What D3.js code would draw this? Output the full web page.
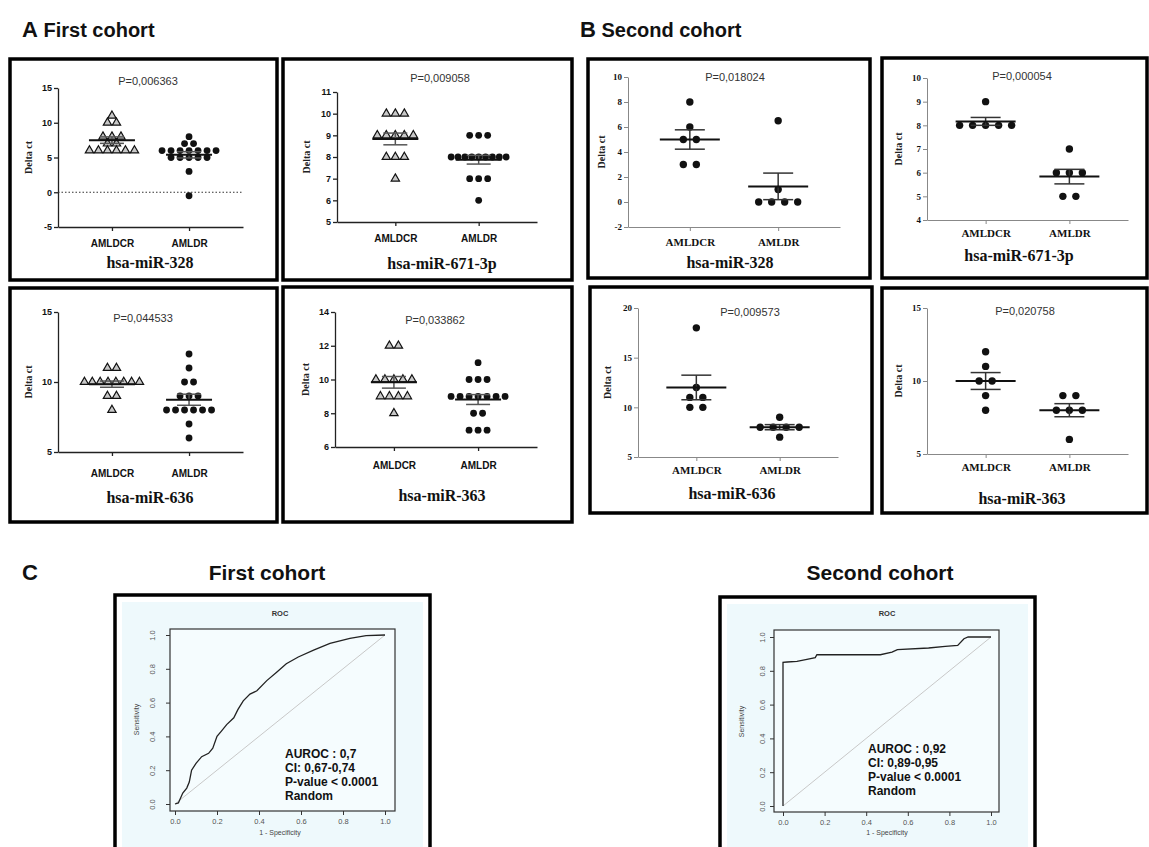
<!DOCTYPE html>
<html>
<head>
<meta charset="utf-8">
<script src="https://cdn.jsdelivr.net/npm/d3@7"></script>
<style>body{margin:0;background:#fff}</style>
</head>
<body>
<div id="fig"></div>
<script>
// categories
const groups = ["AMLDCR", "AMLDR"];

// first cohort: [AMLDCR, AMLDR] delta ct values
const a328 = [[11, 10, 10, 8, 8, 8, 7, 7, 6, 6, 6, 6, 6, 6], [8, 7, 7, 6, 6, 6, 6, 6, 6, 6, 5, 5, 5, 5, 5, 3, -0.5]];
const a671 = [[10, 10, 10, 9, 9, 9, 9, 9, 8, 8, 8, 7], [9, 9, 9, 8, 8, 8, 8, 8, 8, 8, 8, 8, 7, 7, 7, 6]];
const a636 = [[11, 11, 10, 10, 10, 10, 10, 10, 10, 10, 9, 9, 8], [12, 11, 10, 10, 9, 9, 9, 8, 8, 8, 8, 8, 8, 7, 6]];
const a363 = [[12, 12, 10, 10, 10, 10, 10, 9, 9, 9, 9, 8], [11, 10, 10, 10, 9, 9, 9, 9, 9, 9, 9, 8, 8, 7, 7, 7]];
// second cohort
const b328 = [[8, 6, 5, 5, 3, 3], [6.5, 1, 0, 0, 0, 0]];
const b671 = [[9, 8, 8, 8, 8, 8], [7, 6, 6, 6, 5, 5]];
const b636 = [[18, 12, 11, 11, 10, 10], [9, 8, 8, 8, 8, 7]];
const b363 = [[12, 11, 10, 10, 9, 8], [9, 9, 8, 8, 8, 6]];

const pValues = ["P=0,006363", "P=0,009058", "P=0,044533", "P=0,033862", "P=0,018024", "P=0,000054", "P=0,009573", "P=0,020758"];
const mirNames = ["hsa-miR-328", "hsa-miR-671-3p", "hsa-miR-636", "hsa-miR-363", "hsa-miR-328", "hsa-miR-671-3p", "hsa-miR-636", "hsa-miR-363"];
const yDomains = [[-5, 15], [5, 11], [5, 15], [6, 14], [-2, 10], [4, 10], [5, 20], [5, 15]];
const yTicks = [[-5, 0, 5, 10, 15], [5, 6, 7, 8, 9, 10, 11], [5, 10, 15], [6, 8, 10, 12, 14],
                [-2, 0, 2, 4, 6, 8, 10], [4, 5, 6, 7, 8, 9, 10], [5, 10, 15, 20], [5, 10, 15]];

// ROC curves [1-specificity, sensitivity]
const roc1 = [[0, 0], [0.016, 0.006], [0.037, 0.065], [0.056, 0.094], [0.068, 0.13], [0.079, 0.2], [0.1, 0.24],
              [0.127, 0.28], [0.16, 0.3], [0.18, 0.33], [0.2, 0.4], [0.22, 0.43], [0.246, 0.47], [0.28, 0.51],
              [0.3, 0.56], [0.325, 0.61], [0.357, 0.65], [0.39, 0.67], [0.437, 0.73], [0.484, 0.78], [0.53, 0.83],
              [0.587, 0.87], [0.66, 0.91], [0.738, 0.95], [0.833, 0.98], [0.91, 0.996], [1, 1]];
const roc2 = [[0, 0], [0, 0.85], [0.02, 0.852], [0.067, 0.856], [0.115, 0.868], [0.155, 0.878], [0.163, 0.895],
              [0.468, 0.895], [0.524, 0.91], [0.55, 0.925], [0.7, 0.935], [0.78, 0.945], [0.84, 0.95],
              [0.87, 0.99], [0.89, 1], [1, 1]];
const rocTicks = [0, 0.2, 0.4, 0.6, 0.8, 1];
const rocStats1 = ["AUROC : 0,7", "CI: 0,67-0,74", "P-value < 0.0001", "Random"];
const rocStats2 = ["AUROC : 0,92", "CI: 0,89-0,95", "P-value < 0.0001", "Random"];

const W = 1149, H = 847;
const sans = "'Liberation Sans', Arial, sans-serif";
const serif = "'Liberation Serif', 'Times New Roman', serif";

const svg = d3.select("#fig").append("svg").attr("width", W).attr("height", H);

// section headings
function heading(x, y, letter, text) {
    const t = svg.append("text").attr("x", x).attr("y", y).attr("font-family", sans)
        .attr("font-weight", "bold").attr("fill", "#111");
    t.append("tspan").attr("font-size", 22).text(letter);
    if (text) t.append("tspan").attr("font-size", 20).text(" " + text);
}
heading(22, 37, "A", "First cohort");
heading(580, 37, "B", "Second cohort");
heading(22, 580, "C", null);

// panel layout (positions only)
const layout = [
    { data: a328, box: [10, 59, 277, 280], x: [58, 243], y: [227, 88], p: [148, 81], name: [150, 262], catY: 243, lblX: 28, kind: "A", zero: true },
    { data: a671, box: [283, 59, 572, 280], x: [337, 537], y: [222, 92], p: [440, 78], name: [442, 263], catY: 238, lblX: 306, kind: "A" },
    { data: a636, box: [10, 288, 277, 522], x: [58, 243], y: [452, 312], p: [143, 318], name: [150, 497], catY: 473, lblX: 28, kind: "A" },
    { data: a363, box: [283, 287, 572, 522], x: [335, 537], y: [447, 312], p: [435, 320], name: [442, 495], catY: 465, lblX: 305, kind: "A" },
    { data: b328, box: [588, 59, 870, 278], x: [628, 840], y: [227, 77], p: [735, 77], name: [730, 262], catY: 242, lblX: 601, kind: "B" },
    { data: b671, box: [882, 58, 1147, 278], x: [927, 1128], y: [220, 78], p: [1022, 76], name: [1019, 255], catY: 233, lblX: 898, kind: "B" },
    { data: b636, box: [590, 287, 872, 513], x: [638, 838], y: [457, 308], p: [750, 312], name: [732, 493], catY: 470, lblX: 607, kind: "B" },
    { data: b363, box: [882, 288, 1147, 513], x: [927, 1128], y: [454, 308], p: [1025, 311], name: [1022, 498], catY: 467, lblX: 898, kind: "B" }
];

layout.forEach((L, k) => {
    const isA = L.kind === "A";
    const g = svg.append("g");

    g.append("rect")
        .attr("x", L.box[0]).attr("y", L.box[1])
        .attr("width", L.box[2] - L.box[0]).attr("height", L.box[3] - L.box[1])
        .attr("fill", "none").attr("stroke", "#000").attr("stroke-width", 3.5);

    const x = d3.scalePoint().domain(groups).range(L.x).padding(0.7);
    const y = d3.scaleLinear().domain(yDomains[k]).range(L.y);
    const axisCol = isA ? "#222" : "#888";
    const tickFont = isA ? sans : serif;

    // y axis
    const ya = g.append("g").attr("transform", `translate(${L.x[0]},0)`)
        .call(d3.axisLeft(y).tickValues(yTicks[k]).tickFormat(d => String(d))
            .tickSize(4).tickSizeOuter(0).tickPadding(2));
    ya.selectAll("path,line").attr("stroke", axisCol).attr("stroke-width", isA ? 1.3 : 1);
    ya.selectAll("text").attr("font-family", tickFont).attr("font-weight", "bold")
        .attr("font-size", 9).attr("fill", "#111");

    // x axis
    const fsCat = isA ? 10 : 11;
    const xa = g.append("g").attr("transform", `translate(0,${L.y[0]})`)
        .call(d3.axisBottom(x).tickSize(4).tickSizeOuter(0)
            .tickPadding(L.catY - L.y[0] - 4 - 0.36 * fsCat));
    xa.selectAll("path,line").attr("stroke", axisCol).attr("stroke-width", isA ? 1.3 : 1);
    xa.selectAll("text").attr("font-family", tickFont).attr("font-weight", "bold")
        .attr("font-size", fsCat).attr("fill", "#111");

    // y label
    g.append("text")
        .attr("transform", `translate(${L.lblX},${(L.y[0] + L.y[1]) / 2}) rotate(-90)`)
        .attr("text-anchor", "middle").attr("dy", "0.35em")
        .attr("font-family", serif).attr("font-weight", "bold").attr("font-size", 10)
        .attr("fill", "#222").text("Delta ct");

    if (L.zero) {
        g.append("line").attr("x1", L.x[0]).attr("x2", L.x[1]).attr("y1", y(0)).attr("y2", y(0))
            .attr("stroke", "#333").attr("stroke-width", 1.2).attr("stroke-dasharray", "1.5,2");
    }

    // p value
    g.append("text").attr("x", L.p[0]).attr("y", L.p[1]).attr("dy", "0.35em")
        .attr("text-anchor", "middle").attr("font-family", sans).attr("font-size", 11)
        .attr("fill", "#333").text(pValues[k]);

    // miRNA name
    g.append("text").attr("x", L.name[0]).attr("y", L.name[1]).attr("dy", "0.35em")
        .attr("text-anchor", "middle").attr("font-family", serif).attr("font-weight", "bold")
        .attr("font-size", 16).attr("fill", "#111").text(mirNames[k]);

    const meanHalf = isA ? 23 : 30, semHalf = isA ? 12 : 15;

    L.data.forEach((vals, gi) => {
        const cx = x(groups[gi]);
        const counts = d3.rollup(vals, v => v.length, d => d);
        const seen = new Map();
        const pts = vals.map(v => {
            const n = counts.get(v);
            const i = seen.get(v) || 0;
            seen.set(v, i + 1);
            const sp = isA ? Math.min(9, 55 / Math.max(1, n - 1)) : 13;
            return { x: cx + (i - (n - 1) / 2) * sp, y: y(v) };
        });

        if (isA && gi === 0) {
            g.selectAll(null).data(pts).enter().append("path")
                .attr("transform", d => `translate(${d.x},${d.y})`)
                .attr("d", d3.symbol(d3.symbolTriangle).size(30))
                .attr("fill", "#c8c8c8").attr("stroke", "#111").attr("stroke-width", 1.2);
        } else {
            g.selectAll(null).data(pts).enter().append("circle")
                .attr("cx", d => d.x).attr("cy", d => d.y).attr("r", isA ? 3.4 : 3.7)
                .attr("fill", "#111");
        }

        const mean = d3.mean(vals);
        const sem = d3.deviation(vals) / Math.sqrt(vals.length);
        const semCol = isA ? "#555" : "#333";
        g.append("line").attr("x1", cx).attr("x2", cx).attr("y1", y(mean - sem)).attr("y2", y(mean + sem))
            .attr("stroke", semCol).attr("stroke-width", 1.5);
        [mean - sem, mean + sem].forEach(v => {
            g.append("line").attr("x1", cx - semHalf).attr("x2", cx + semHalf).attr("y1", y(v)).attr("y2", y(v))
                .attr("stroke", semCol).attr("stroke-width", 1.5);
        });
        g.append("line").attr("x1", cx - meanHalf).attr("x2", cx + meanHalf).attr("y1", y(mean)).attr("y2", y(mean))
            .attr("stroke", "#111").attr("stroke-width", 2);
    });
});

// ROC panels
const rocs = [
    { curve: roc1, stats: rocStats1, title: "First cohort", titleX: 267, box: [115, 595, 430, 860], rect: [170, 629, 395, 811], xr: [175, 385], yr: [804, 635], textX: 285, textY: 754, sensX: 137, tickYX: 152 },
    { curve: roc2, stats: rocStats2, title: "Second cohort", titleX: 880, box: [720, 597, 1035, 860], rect: [774, 630, 999, 812], xr: [783, 991], yr: [806, 637], textX: 868, textY: 749, sensX: 742, tickYX: 762 }
];

rocs.forEach(R => {
    const g = svg.append("g");
    g.append("text").attr("x", R.titleX).attr("y", 573).attr("dy", "0.35em").attr("text-anchor", "middle")
        .attr("font-family", sans).attr("font-weight", "bold").attr("font-size", 21).attr("fill", "#111")
        .text(R.title);

    g.append("rect").attr("x", R.box[0] + 7).attr("y", R.box[1] + 7)
        .attr("width", R.box[2] - R.box[0] - 14).attr("height", R.box[3] - R.box[1] - 14)
        .attr("fill", "#eef9fc");
    g.append("rect").attr("x", R.box[0]).attr("y", R.box[1])
        .attr("width", R.box[2] - R.box[0]).attr("height", R.box[3] - R.box[1])
        .attr("fill", "none").attr("stroke", "#000").attr("stroke-width", 3.5);

    const xs = d3.scaleLinear().domain([0, 1]).range(R.xr);
    const ys = d3.scaleLinear().domain([0, 1]).range(R.yr);

    g.append("rect").attr("x", R.rect[0]).attr("y", R.rect[1])
        .attr("width", R.rect[2] - R.rect[0]).attr("height", R.rect[3] - R.rect[1])
        .attr("fill", "#f5fcfe").attr("stroke", "#333").attr("stroke-width", 1.2);

    g.append("text").attr("x", (R.xr[0] + R.xr[1]) / 2).attr("y", 613).attr("dy", "0.35em")
        .attr("text-anchor", "middle").attr("font-family", sans).attr("font-weight", "bold")
        .attr("font-size", 7.5).attr("fill", "#333").text("ROC");

    const xa = g.append("g").attr("transform", `translate(0,${R.rect[3]})`)
        .call(d3.axisBottom(xs).tickValues(rocTicks).tickFormat(d3.format(".1f")).tickSize(4).tickPadding(4));
    xa.select(".domain").remove();
    xa.selectAll("line").attr("stroke", "#333");
    xa.selectAll("text").attr("font-family", sans).attr("font-size", 7.5).attr("fill", "#555");

    const ya = g.append("g").attr("transform", `translate(${R.rect[0]},0)`)
        .call(d3.axisLeft(ys).tickValues(rocTicks).tickFormat(d3.format(".1f")).tickSize(4));
    ya.select(".domain").remove();
    ya.selectAll("line").attr("stroke", "#333");
    ya.selectAll("text").attr("transform", "rotate(-90)").attr("x", 0).attr("y", -(R.rect[0] - R.tickYX))
        .attr("dy", "0.35em").attr("text-anchor", "middle")
        .attr("font-family", sans).attr("font-size", 7.5).attr("fill", "#555");

    g.append("text").attr("x", (R.xr[0] + R.xr[1]) / 2).attr("y", 833).attr("dy", "0.35em")
        .attr("text-anchor", "middle").attr("font-family", sans).attr("font-size", 7)
        .attr("fill", "#444").text("1 - Specificity");
    g.append("text")
        .attr("transform", `translate(${R.sensX},${(R.yr[0] + R.yr[1]) / 2}) rotate(-90)`)
        .attr("text-anchor", "middle").attr("dy", "0.35em").attr("font-family", sans)
        .attr("font-size", 7).attr("fill", "#444").text("Sensitivity");

    g.append("line").attr("x1", xs(0)).attr("y1", ys(0)).attr("x2", xs(1)).attr("y2", ys(1))
        .attr("stroke", "#c8c8c8").attr("stroke-width", 1);

    g.append("path").datum(R.curve)
        .attr("d", d3.line().x(d => xs(d[0])).y(d => ys(d[1])))
        .attr("fill", "none").attr("stroke", "#222").attr("stroke-width", 1.3);

    g.selectAll(null).data(R.stats).enter().append("text")
        .attr("x", R.textX).attr("y", (d, i) => R.textY + i * 13.8).attr("dy", "0.35em")
        .attr("font-family", sans).attr("font-weight", "bold").attr("font-size", 12)
        .attr("fill", "#111").text(d => d);
});
</script>
</body>
</html>
